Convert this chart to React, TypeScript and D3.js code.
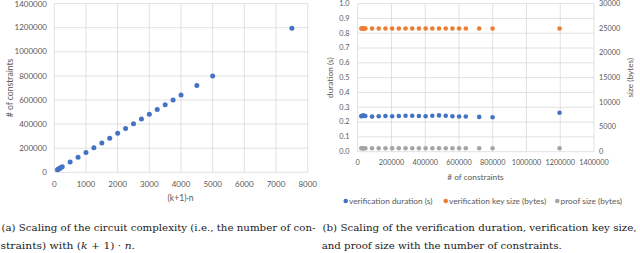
import * as d3 from "d3";

// (k+1)·n values and resulting constraint counts
const kn = [100, 125, 150, 175, 200, 250, 500, 750, 1000, 1250, 1500, 1750, 2000, 2250, 2500, 2750, 3000, 3250, 3500, 3750, 4000, 4500, 5000, 7500];
const constraints = [21600, 25500, 29500, 33500, 37500, 45400, 85000, 124700, 164400, 204000, 243800, 283400, 323100, 362800, 402500, 442100, 481800, 521500, 561200, 600800, 640500, 719900, 799200, 1196000];

// verification metrics per constraint count
const duration = [0.240, 0.241, 0.243, 0.244, 0.242, 0.241, 0.237, 0.239, 0.241, 0.239, 0.241, 0.243, 0.243, 0.241, 0.239, 0.243, 0.245, 0.243, 0.239, 0.238, 0.238, 0.235, 0.233, 0.263];
const keySize = [24950, 24950, 24950, 24950, 24950, 24950, 24950, 24950, 24950, 24950, 24950, 24950, 24950, 24950, 24950, 24950, 24950, 24950, 24950, 24950, 24950, 24950, 24950, 24950];
const proofSize = [700, 700, 700, 700, 700, 700, 700, 700, 700, 700, 700, 700, 700, 700, 700, 700, 700, 700, 700, 700, 700, 700, 700, 700];

const leftXTicks = [0, 1000, 2000, 3000, 4000, 5000, 6000, 7000, 8000];
const leftYTicks = [0, 200000, 400000, 600000, 800000, 1000000, 1200000, 1400000];
const rightXTicks = [0, 200000, 400000, 600000, 800000, 1000000, 1200000, 1400000];
const durTicks = [0, 0.1, 0.2, 0.3, 0.4, 0.5, 0.6, 0.7, 0.8, 0.9, 1.0];
const sizeTicks = [0, 5000, 10000, 15000, 20000, 25000, 30000];

const legendItems = [
  { label: "verification duration (s)", color: "#4472C4" },
  { label: "verification key size (bytes)", color: "#ED7D31" },
  { label: "proof size (bytes)", color: "#A5A5A5" },
];

const GRID = "#d9d9d9";
const TXT = "#595959";
const FONT = "Lato, 'Liberation Sans', sans-serif";
const SERIF = "'DejaVu Serif', serif";

export default function App() {
  // left chart scales
  const lx = d3.scaleLinear().domain([0, 8000]).range([54.3, 307.7]);
  const ly = d3.scaleLinear().domain([0, 1400000]).range([172.3, 3.6]);
  // right chart scales
  const rx = d3.scaleLinear().domain([0, 1400000]).range([357.7, 594]);
  const ry = d3.scaleLinear().domain([0, 1]).range([151.7, 3.6]);
  const ry2 = d3.scaleLinear().domain([0, 30000]).range([151.7, 3.6]);

  const fmt = d3.format(".1f");

  return (
    <svg width={640} height={253} style={{ position: "absolute", left: 0, top: 0 }}>
      <rect width={640} height={253} fill="#fff" />

      {/* left chart grid */}
      <g stroke={GRID} strokeWidth={0.8}>
        {leftXTicks.map((t) => (
          <line key={"lxg" + t} x1={lx(t)} x2={lx(t)} y1={ly(0)} y2={ly(1400000)} />
        ))}
        {leftYTicks.map((t) => (
          <line key={"lyg" + t} x1={lx(0)} x2={lx(8000)} y1={ly(t)} y2={ly(t)} />
        ))}
      </g>
      <g fontFamily={FONT} fontSize={8} fill={TXT}>
        {leftYTicks.map((t) => (
          <text key={"lyt" + t} x={47} y={Math.max(ly(t), 4)} dy="0.33em" textAnchor="end">{t}</text>
        ))}
        {leftXTicks.map((t) => (
          <text key={"lxt" + t} x={lx(t)} y={187} textAnchor="middle">{t}</text>
        ))}
        <text x={180.5} y={200.5} textAnchor="middle" fontSize={8.6}>(k+1)·n</text>
        <text transform={`translate(13,${(ly(0) + ly(1400000)) / 2}) rotate(-90)`} textAnchor="middle" fontSize={8.6}>
          # of constraints
        </text>
      </g>
      <g fill="#4472C4">
        {kn.map((k, i) => (
          <circle key={"lp" + i} cx={lx(k)} cy={ly(constraints[i])} r={2.5} />
        ))}
      </g>

      {/* right chart grid */}
      <g stroke={GRID} strokeWidth={0.8}>
        {rightXTicks.map((t) => (
          <line key={"rxg" + t} x1={rx(t)} x2={rx(t)} y1={ry(0)} y2={ry(1)} />
        ))}
        {durTicks.map((t) => (
          <line key={"ryg" + t} x1={rx(0)} x2={rx(1400000)} y1={ry(t)} y2={ry(t)} />
        ))}
      </g>
      <g fontFamily={FONT} fontSize={7.3} fill={TXT}>
        {durTicks.map((t) => (
          <text key={"ryt" + t} x={349.5} y={Math.max(ry(t), 4)} dy="0.33em" textAnchor="end">{fmt(t)}</text>
        ))}
        {sizeTicks.map((t) => (
          <text key={"ry2t" + t} x={599} y={Math.max(ry2(t), 4)} dy="0.33em" textAnchor="start">{t}</text>
        ))}
        {rightXTicks.map((t) => (
          <text key={"rxt" + t} x={rx(t)} y={165} textAnchor="middle">{t}</text>
        ))}
        <text x={475.5} y={179.5} textAnchor="middle" fontSize={8.3}># of constraints</text>
        <text transform={`translate(333,${(ry(0) + ry(1)) / 2}) rotate(-90)`} textAnchor="middle" fontSize={8.3}>
          duration (s)
        </text>
        <text transform={`translate(633,${(ry(0) + ry(1)) / 2}) rotate(-90)`} textAnchor="middle" fontSize={8.3}>
          size (bytes)
        </text>
      </g>
      <g>
        {constraints.map((c, i) => (
          <circle key={"ps" + i} cx={rx(c)} cy={ry2(proofSize[i])} r={2.3} fill="#A5A5A5" />
        ))}
        {constraints.map((c, i) => (
          <circle key={"ks" + i} cx={rx(c)} cy={ry2(keySize[i])} r={2.3} fill="#ED7D31" />
        ))}
        {constraints.map((c, i) => (
          <circle key={"du" + i} cx={rx(c)} cy={ry(duration[i])} r={2.3} fill="#4472C4" />
        ))}
      </g>

      {/* legend */}
      <g fontFamily={FONT} fontSize={8.3} fill={TXT}>
        {legendItems.map((d, i) => {
          const xs = [345.7, 445.7, 557.3];
          return (
            <g key={d.label}>
              <circle cx={xs[i]} cy={201} r={2.3} fill={d.color} />
              <text x={xs[i] + 3.3} y={201} dy="0.33em">{d.label}</text>
            </g>
          );
        })}
      </g>

      {/* captions */}
      <g fontFamily={SERIF} fontSize={9.6} fill="#222">
        <text x={1.5} y={231} textLength={314} lengthAdjust="spacingAndGlyphs">
          (a) Scaling of the circuit complexity (i.e., the number of con-
        </text>
        <text x={0.5} y={249} textLength={134.5} lengthAdjust="spacingAndGlyphs">
          straints) with (<tspan fontStyle="italic">k</tspan> + 1) · <tspan fontStyle="italic">n</tspan>.
        </text>
        <text x={322.5} y={231} textLength={314} lengthAdjust="spacingAndGlyphs">
          (b) Scaling of the verification duration, verification key size,
        </text>
        <text x={321.7} y={249} textLength={240} lengthAdjust="spacingAndGlyphs">
          and proof size with the number of constraints.
        </text>
      </g>
    </svg>
  );
}
